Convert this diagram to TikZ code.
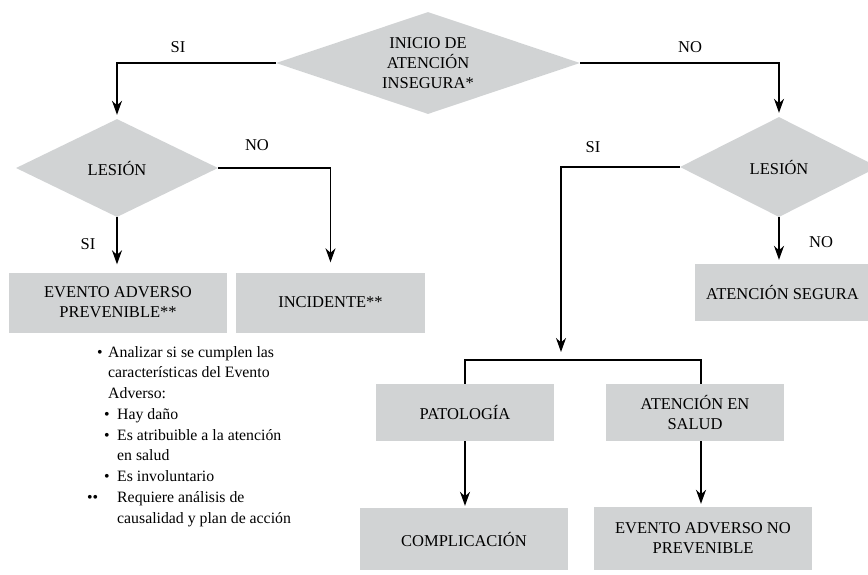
\documentclass[tikz,border=0pt]{standalone}
\usepackage{fontspec}
\setmainfont{Liberation Serif}
\usetikzlibrary{shapes.geometric,arrows.meta}
\definecolor{boxgray}{RGB}{209,211,212}
\tikzset{
  dia/.style={shape=diamond, fill=boxgray, inner sep=0pt, align=center, font=\fontsize{16.5}{20}\selectfont},
  gbox/.style={shape=rectangle, fill=boxgray, inner sep=0pt, align=center, font=\fontsize{16.5}{20}\selectfont},
  lbl/.style={font=\fontsize{16.5}{20}\selectfont, inner sep=0pt},
  ln/.style={line width=1.2pt, draw=black},
  arr/.style={ln, -{Stealth[length=14pt,width=10pt,inset=4.5pt]}},
  btxt/.style={font=\fontsize{15.8}{20}\selectfont, anchor=base west, inner sep=0pt},
}
\begin{document}
\begin{tikzpicture}[x=1pt,y=-1pt]
\useasboundingbox (0,0) rectangle (868,574);

% diamonds
\node[dia, minimum width=304pt, minimum height=102pt, aspect=3] (top) at (428,63) {INICIO DE\\ATENCIÓN\\INSEGURA*};
\node[dia, minimum width=202pt, minimum height=98pt, aspect=2] (ld) at (117,168) {LESIÓN};
\node[dia, minimum width=198pt, minimum height=100pt, aspect=2] (rd) at (779,167) {LESIÓN};

% boxes
\node[gbox, minimum width=218pt, minimum height=60pt] (evp) at (118,302.5) {EVENTO ADVERSO\\PREVENIBLE**};
\node[gbox, minimum width=189pt, minimum height=60pt] (inc) at (330.5,302.5) {INCIDENTE**};
\node[gbox, minimum width=175pt, minimum height=57pt] (aseg) at (782.5,292.5) {ATENCIÓN SEGURA};
\node[gbox, minimum width=178pt, minimum height=57pt] (pat) at (465,412.5) {PATOLOGÍA};
\node[gbox, minimum width=178pt, minimum height=57pt] (asal) at (695,412.5) {ATENCIÓN EN\\SALUD};
\node[gbox, minimum width=208pt, minimum height=62pt] (comp) at (464,539) {COMPLICACIÓN};
\node[gbox, minimum width=218pt, minimum height=63pt] (evnp) at (703,538.5) {EVENTO ADVERSO NO\\PREVENIBLE};

% labels
\node[lbl] (siA) at (178,47) {SI};
\node[lbl] (noA) at (690,47) {NO};
\node[lbl] (noB) at (257,145) {NO};
\node[lbl] (siB) at (88,244) {SI};
\node[lbl] (siC) at (593,147) {SI};
\node[lbl] (noC) at (821,242) {NO};

% connectors
\draw[arr, shorten >=4pt] (top.west) -| (ld.north);
\draw[arr, shorten >=4pt] (top.east) -| (rd.north);
\draw[arr, shorten >=8pt] (ld.south) -- (ld.south |- evp.north);
\draw[arr, shorten >=10pt] (ld.east) -| (inc.north);
\draw[arr, shorten >=4pt] (rd.south) -- (rd.south |- aseg.north);
\coordinate (sp) at (561,360);
\draw[arr, shorten >=8pt] (rd.west) -| (sp);
\coordinate (bl) at (465,360);
\coordinate (br) at (701,360);
\draw[ln] (pat.north) -- (bl) -- (br) -- (br |- asal.north);
\draw[arr, shorten >=2pt] (pat.south) -- (pat.south |- comp.north);
\draw[arr, shorten >=3pt] (br |- asal.south) -- (br |- evnp.north);

% notes
\node[btxt] (b1) at (97,357) {•};
\node[btxt] (t1) at (108,357) {Analizar si se cumplen las};
\node[btxt] (t2) at (108,377.75) {características del Evento};
\node[btxt] (t3) at (108,398.5) {Adverso:};
\node[btxt] (b4) at (104,419.25) {•};
\node[btxt] (t4) at (117,419.25) {Hay daño};
\node[btxt] (b5) at (104,440) {•};
\node[btxt] (t5) at (117,440) {Es atribuible a la atención};
\node[btxt] (t6) at (117,460.75) {en salud};
\node[btxt] (b7) at (104,481.5) {•};
\node[btxt] (t7) at (117,481.5) {Es involuntario};
\node[btxt] (b8) at (87,502.25) {••};
\node[btxt] (t8) at (117,502.25) {Requiere análisis de};
\node[btxt] (t9) at (117,523) {causalidad y plan de acción};
\end{tikzpicture}
\end{document}
